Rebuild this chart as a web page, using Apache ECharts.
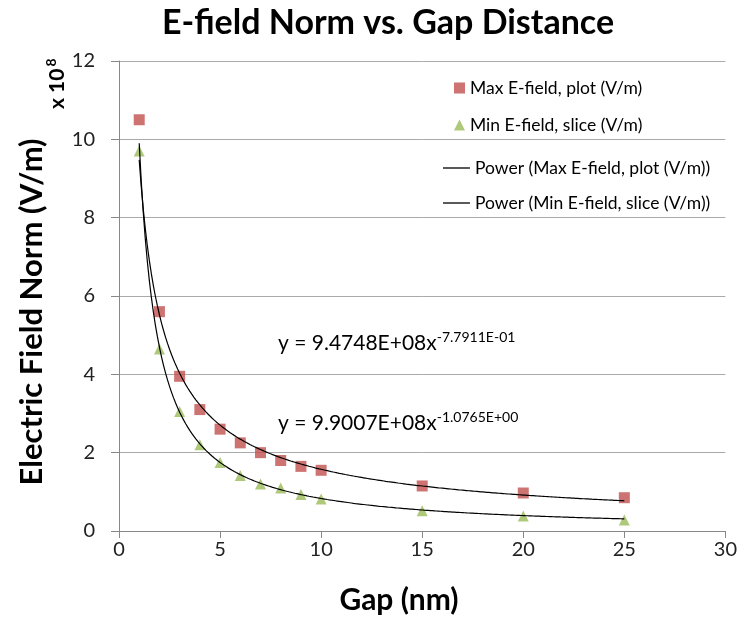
<!DOCTYPE html>
<html><head><meta charset="utf-8">
<script src="https://cdn.jsdelivr.net/npm/echarts@6/dist/echarts.min.js"></script>
<style>html,body{margin:0;padding:0;background:#fff}#c{width:740px;height:617px}</style>
</head><body><div id="c"></div>
<script>
const gaps = [1,2,3,4,5,6,7,8,9,10,15,20,25];
const maxField = [10.5,5.6,3.95,3.1,2.6,2.25,2.0,1.8,1.65,1.55,1.15,0.97,0.85];
const minField = [9.7,4.65,3.05,2.2,1.75,1.42,1.2,1.1,0.93,0.82,0.52,0.38,0.28];
const yTicks = [0,2,4,6,8,10,12];
const xTicks = [0,5,10,15,20,25,30];
// trendline coefficients as printed on the chart (in units of 1e8)
const maxFitA = 9.4748, maxFitB = -0.77911;
const minFitA = 9.9007, minFitB = -1.0765;
const names = ['Max E-field, plot (V/m)','Min E-field, slice (V/m)','Power (Max E-field, plot (V/m))','Power (Min E-field, slice (V/m))'];
const titleText = 'E-field Norm vs. Gap Distance';
const xName = 'Gap (nm)';
const yName = 'Electric Field Norm (V/m)';

function fit(a,b){const out=[];for(let x=1;x<=25.0001;x+=0.1){out.push([x,a*Math.pow(x,b)]);}return out;}

const font = 'Lato, "Open Sans", "Noto Sans", sans-serif';
const chart = echarts.init(document.getElementById('c'));
chart.setOption({
  animation:false,
  textStyle:{fontFamily:font},
  grid:{left:119,right:13,top:61,bottom:86},
  legend:[
    {orient:'vertical',left:449,top:74,itemGap:19,itemWidth:11,itemHeight:11,
     data:[{name:names[0],icon:'rect'},{name:names[1],icon:'triangle'}],
     textStyle:{fontSize:17.5,color:'#000',fontFamily:font}},
    {orient:'vertical',left:438,top:154,itemGap:17,itemWidth:27,itemHeight:1.3,
     data:[{name:names[2],icon:'rect'},{name:names[3],icon:'rect'}],
     textStyle:{fontSize:17.5,color:'#000',fontFamily:font}}
  ],
  xAxis:{type:'value',min:0,max:30,interval:5,
    axisLine:{lineStyle:{color:'#888'}},axisTick:{show:true,length:7,lineStyle:{color:'#888'}},
    splitLine:{show:false},
    axisLabel:{fontSize:20,color:'#222',margin:9,formatter:v=>xTicks.includes(v)?String(v):''}},
  yAxis:{type:'value',min:0,max:12,interval:2,
    axisLine:{show:true,lineStyle:{color:'#888'}},axisTick:{show:true,length:8,lineStyle:{color:'#888'}},
    splitLine:{lineStyle:{color:'#aaa'}},
    axisLabel:{fontSize:20,color:'#222',margin:24,formatter:v=>yTicks.includes(v)?String(v):''}},
  graphic:[
    {type:'text',x:388,y:23,style:{text:titleText,fontSize:34,fontWeight:'bold',fill:'#000',fontFamily:font,align:'center',verticalAlign:'middle'}},
    {type:'text',x:399,y:600,style:{text:xName,fontSize:30,fontWeight:'bold',fill:'#000',fontFamily:font,align:'center',verticalAlign:'middle'}},
    {type:'text',x:32,y:312,rotation:Math.PI/2,style:{text:yName,fontSize:31,fontWeight:'bold',fill:'#000',fontFamily:font,align:'center',verticalAlign:'middle'}},
    {type:'text',x:70,y:109,rotation:Math.PI/2,
     style:{rich:{a:{fontSize:21,fontWeight:'bold',fill:'#000',fontFamily:font},s:{fontSize:14,fontWeight:'bold',fill:'#000',fontFamily:font,padding:[0,0,12,2]}},
       text:'{a|x 10}{s|8}',align:'left',verticalAlign:'bottom'}},
    {type:'text',left:278,top:330,style:{rich:{a:{fontSize:21,fill:'#000',fontFamily:font},s:{fontSize:14,fill:'#000',fontFamily:font,padding:[0,0,12,0]}},text:'{a|y = 9.4748E+08x}{s|-7.7911E-01}'}},
    {type:'text',left:278,top:410,style:{rich:{a:{fontSize:21,fill:'#000',fontFamily:font},s:{fontSize:14,fill:'#000',fontFamily:font,padding:[0,0,12,0]}},text:'{a|y = 9.9007E+08x}{s|-1.0765E+00}'}}
  ],
  series:[
    {name:names[0],type:'scatter',symbol:'rect',symbolSize:11,itemStyle:{color:'#C0504D'},
     data:gaps.map((g,i)=>[g,maxField[i]]),z:3},
    {name:names[1],type:'scatter',symbol:'triangle',symbolSize:11,itemStyle:{color:'#9BBB59'},
     data:gaps.map((g,i)=>[g,minField[i]]),z:3},
    {name:names[2],type:'line',showSymbol:false,symbol:'none',lineStyle:{color:'#000',width:1.2},itemStyle:{color:'#000'},
     data:fit(maxFitA,maxFitB),z:4},
    {name:names[3],type:'line',showSymbol:false,symbol:'none',lineStyle:{color:'#000',width:1.2},itemStyle:{color:'#000'},
     data:fit(minFitA,minFitB),z:4}
  ]
});
</script></body></html>
